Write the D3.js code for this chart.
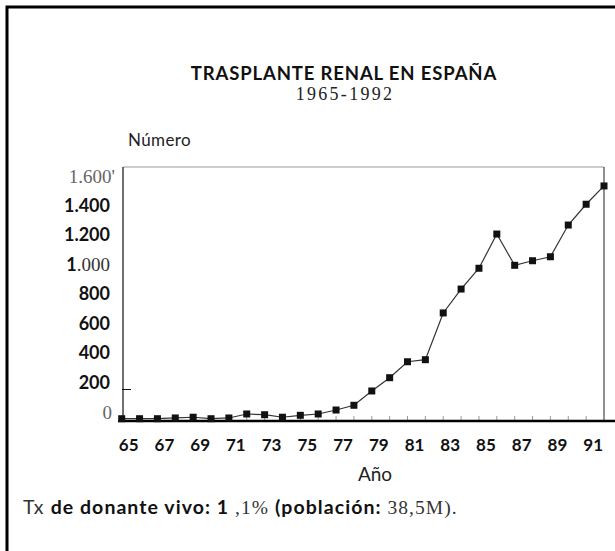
<!DOCTYPE html>
<html>
<head>
<meta charset="utf-8">
<script src="https://cdn.jsdelivr.net/npm/d3@7"></script>
<style>
  body { margin: 0; background: #fff; }
  svg { display: block; }
</style>
</head>
<body>
<div id="chart"></div>
<script>
var years = [1965, 1966, 1967, 1968, 1969, 1970, 1971, 1972, 1973, 1974,
  1975, 1976, 1977, 1978, 1979, 1980, 1981, 1982, 1983, 1984,
  1985, 1986, 1987, 1988, 1989, 1990, 1991, 1992];
var transplants = [2, 2, 2, 7, 12, 2, 7, 34, 29, 12,
  25, 34, 61, 93, 190, 280, 388, 402, 719, 881,
  1022, 1254, 1042, 1073, 1100, 1315, 1456, 1580];
var yTicks = [0, 200, 400, 600, 800, 1000, 1200, 1400, 1600];
var yTickLabels = ["0", "200", "400", "600", "800", "1.000", "1.200", "1.400", "1.600'"];
var xLabelYears = [1965, 1967, 1969, 1971, 1973, 1975, 1977, 1979, 1981, 1983, 1985, 1987, 1989, 1991];
var xLabels = ["65", "67", "69", "71", "73", "75", "77", "79", "81", "83", "85", "87", "89", "91"];

var W = 615, H = 551;
var plot = { left: 123, right: 604, top: 167, bottom: 421 };
var sans = "Lato, 'DejaVu Sans', sans-serif";
var serif = "'Liberation Serif', 'DejaVu Serif', serif";

var svg = d3.select("#chart").append("svg")
  .attr("width", W)
  .attr("height", H);

// scanned page frame (only top and left edges show)
svg.append("path")
  .attr("d", "M7,551V7H615")
  .attr("fill", "none")
  .attr("stroke", "#000")
  .attr("stroke-width", 3);

svg.append("text")
  .attr("x", 344).attr("y", 80)
  .attr("text-anchor", "middle")
  .style("font-family", sans)
  .style("font-weight", "bold")
  .style("font-size", "18.5px")
  .style("letter-spacing", "0.85px")
  .attr("fill", "#111")
  .text("TRASPLANTE RENAL EN ESPAÑA");

svg.append("text")
  .attr("x", 345).attr("y", 100)
  .attr("text-anchor", "middle")
  .style("font-family", serif)
  .style("font-size", "18px")
  .style("letter-spacing", "2.3px")
  .attr("fill", "#222")
  .text("1965-1992");

svg.append("text")
  .attr("x", 128).attr("y", 146)
  .style("font-family", sans)
  .style("font-size", "17px")
  .style("letter-spacing", "0.4px")
  .attr("fill", "#222")
  .text("Número");

var x = d3.scaleLinear().domain([1965, 1992]).range([121.7, 604]);
var y = d3.scaleLinear().domain([0, 1600]).range([419, 183]);

// plot box
svg.append("line")
  .attr("x1", plot.left).attr("x2", plot.right)
  .attr("y1", plot.top).attr("y2", plot.top)
  .attr("stroke", "#999").attr("stroke-width", 1.2);
svg.append("line")
  .attr("x1", plot.right).attr("x2", plot.right)
  .attr("y1", plot.top).attr("y2", plot.bottom)
  .attr("stroke", "#444").attr("stroke-width", 1.2);
svg.append("line")
  .attr("x1", plot.left).attr("x2", plot.left)
  .attr("y1", plot.top).attr("y2", plot.bottom)
  .attr("stroke", "#111").attr("stroke-width", 1.2);

// y axis labels
var yAxis = svg.append("g");
yAxis.selectAll("text")
  .data(yTicks)
  .enter()
  .append("text")
  .attr("x", function (d, i) { return i === 0 ? 112 : (i === 8 ? 115 : 110); })
  .attr("y", function (d) { return y(d) - 7; })
  .attr("dy", "0.36em")
  .attr("text-anchor", "end")
  .style("font-size", "18px")
  .each(function (d, i) {
    var t = d3.select(this);
    var lab = yTickLabels[i];
    if (i === 0 || i === 8) {
      t.style("font-family", serif).style("font-size", "19px").attr("fill", "#666").text(lab);
    } else if (i === 5) {
      t.append("tspan").style("font-family", sans).style("font-weight", "bold").attr("fill", "#111").text(lab.slice(0, 1));
      t.append("tspan").style("font-family", serif).style("font-size", "19px").attr("fill", "#333").text(lab.slice(1));
    } else {
      t.style("font-family", sans).style("font-weight", "bold").attr("fill", "#111").text(lab);
    }
  });

// the lone inner tick at 200
svg.append("line")
  .attr("x1", plot.left - 1).attr("x2", plot.left + 8)
  .attr("y1", y(200)).attr("y2", y(200))
  .attr("stroke", "#111");

// x ticks every year
svg.append("g").selectAll("line")
  .data(years)
  .enter()
  .append("line")
  .attr("x1", function (d) { return x(d); })
  .attr("x2", function (d) { return x(d); })
  .attr("y1", plot.bottom)
  .attr("y2", plot.bottom - 5)
  .attr("stroke", "#999");

svg.append("line")
  .attr("x1", 118).attr("x2", 615)
  .attr("y1", plot.bottom).attr("y2", plot.bottom)
  .attr("stroke", "#000").attr("stroke-width", 2.5);

svg.append("g").selectAll("text")
  .data(xLabelYears)
  .enter()
  .append("text")
  .attr("x", function (d) { return x(d) + 7; })
  .attr("y", 451)
  .attr("text-anchor", "middle")
  .style("font-family", sans)
  .style("font-weight", "bold")
  .style("font-size", "17px")
  .attr("fill", "#111")
  .text(function (d, i) { return xLabels[i]; });

svg.append("text")
  .attr("x", 375).attr("y", 481)
  .attr("text-anchor", "middle")
  .style("font-family", sans)
  .style("font-size", "19px")
  .attr("fill", "#222")
  .text("Año");

// series
var line = d3.line()
  .x(function (d, i) { return x(years[i]); })
  .y(function (d) { return y(d); });

svg.append("path")
  .datum(transplants)
  .attr("d", line)
  .attr("fill", "none")
  .attr("stroke", "#333")
  .attr("stroke-width", 1.2);

svg.append("g").selectAll("rect")
  .data(transplants)
  .enter()
  .append("rect")
  .attr("x", function (d, i) { return x(years[i]) - 3.5; })
  .attr("y", function (d) { return y(d) - 3.5; })
  .attr("width", 7)
  .attr("height", 7)
  .attr("fill", "#111");

// footnote, mixed faces like the scanned original
var foot = svg.append("text")
  .attr("x", 23).attr("y", 514)
  .style("font-size", "19.5px")
  .style("letter-spacing", "1.05px")
  .attr("fill", "#111");
foot.append("tspan").style("font-family", sans).attr("fill", "#333").text("Tx ");
foot.append("tspan").style("font-family", sans).style("font-weight", "bold").text("de donante vivo: 1");
foot.append("tspan").style("font-family", serif).attr("fill", "#333").text(" ,1% ");
foot.append("tspan").style("font-family", sans).style("font-weight", "bold").text("(población:");
foot.append("tspan").style("font-family", serif).attr("fill", "#333").text(" 38,5M).");
</script>
</body>
</html>
